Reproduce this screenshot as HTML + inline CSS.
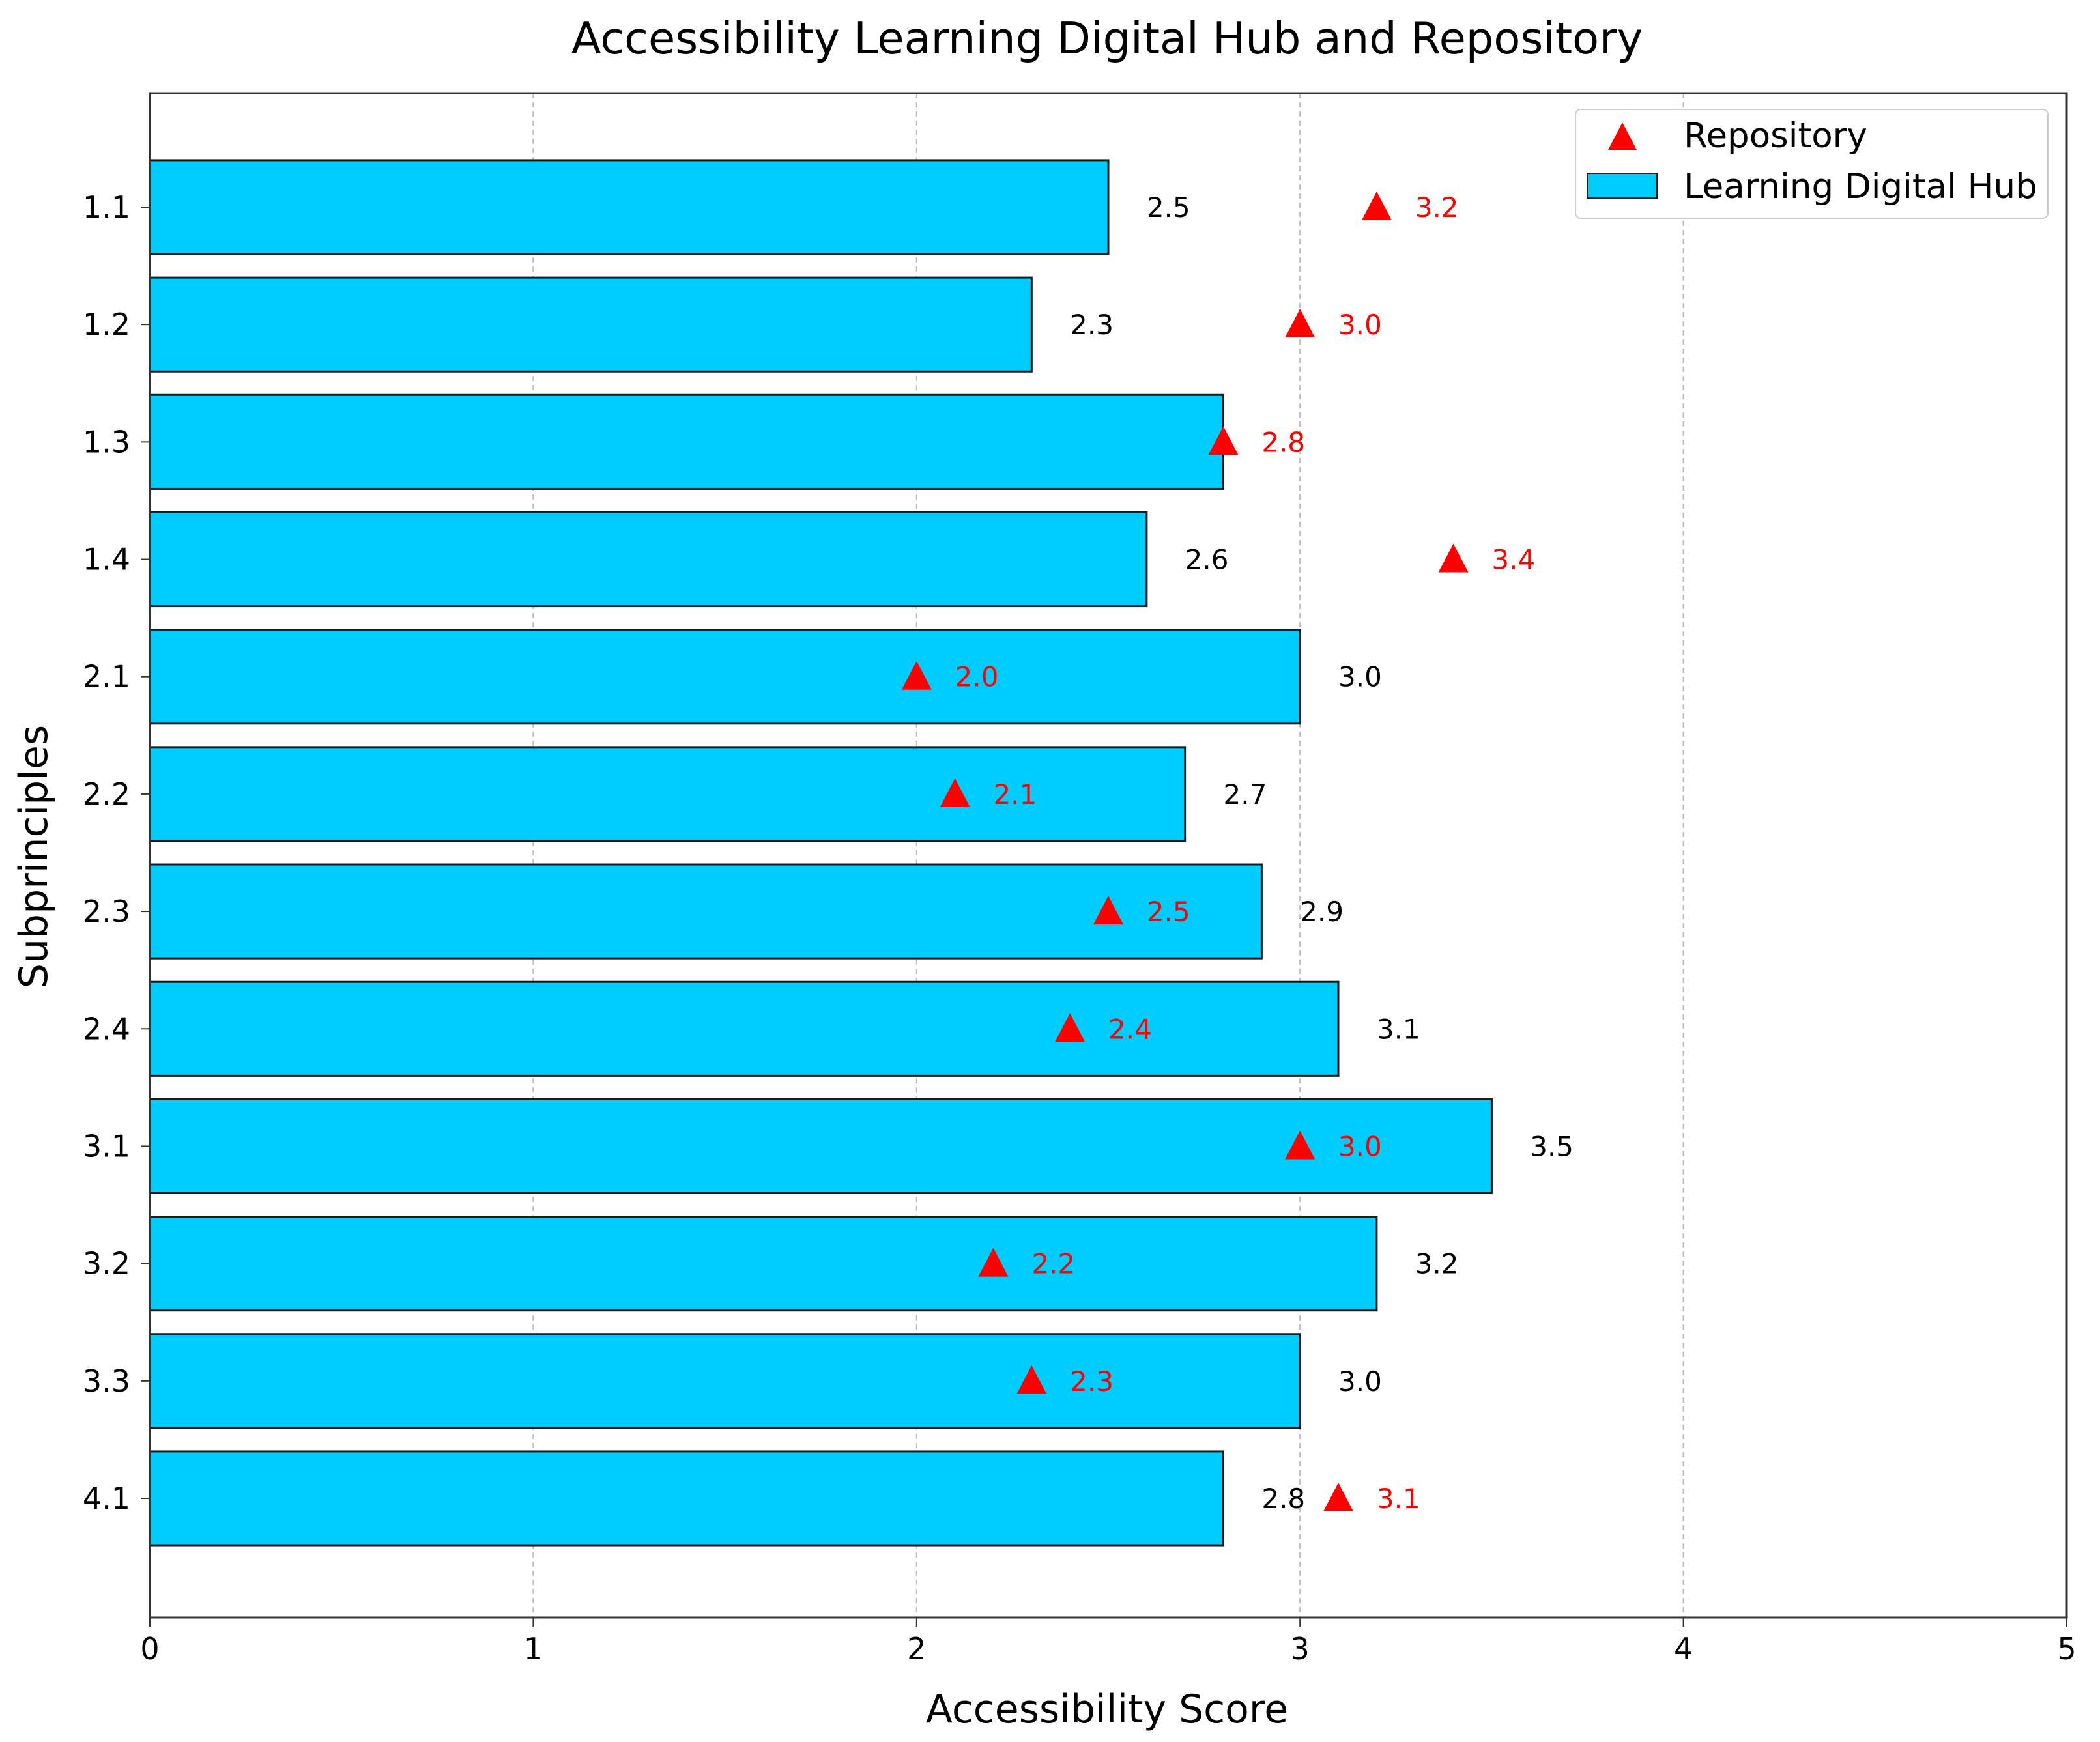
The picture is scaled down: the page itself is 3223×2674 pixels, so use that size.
<!DOCTYPE html>
<html><head><meta charset="utf-8"><style>
html,body{margin:0;padding:0;background:#fff;}
svg{display:block;font-family:"DejaVu Sans","Liberation Sans",sans-serif;}
</style></head><body>
<svg id="chart" width="3223" height="2674" viewBox="0 0 3223 2674" xmlns="http://www.w3.org/2000/svg">
<text x="1699" y="82" font-size="67" text-anchor="middle" fill="#000">Accessibility Learning Digital Hub and Repository</text>
<g id="grid"></g>
<g id="bars"></g>
<g id="markers"></g>
<g id="axes"></g>
<text x="1699" y="2644" font-size="60" text-anchor="middle">Accessibility Score</text>
<text transform="translate(72,1315) rotate(-90)" font-size="60" text-anchor="middle">Subprinciples</text>
<g>
<rect x="2418" y="168" width="725" height="167" rx="8" fill="#fff" stroke="#ccc" stroke-width="2"/>
<polygon points="2490,188 2468,230 2512,230" fill="#ff0000"/>
<text x="2584" y="226" font-size="53">Repository</text>
<rect x="2436" y="266" width="107" height="38" fill="#00ccff" stroke="#222" stroke-width="2"/>
<text x="2584" y="304" font-size="53">Learning Digital Hub</text>
</g>
</svg>
<script>
const categories = ["1.1","1.2","1.3","1.4","2.1","2.2","2.3","2.4","3.1","3.2","3.3","4.1"];
const hubValues = [2.5,2.3,2.8,2.6,3.0,2.7,2.9,3.1,3.5,3.2,3.0,2.8];
const repoValues = [3.2,3.0,2.8,3.4,2.0,2.1,2.5,2.4,3.0,2.2,2.3,3.1];
const xTicks = [0,1,2,3,4,5];

const NS = "http://www.w3.org/2000/svg";
const L = 230, R = 3172, T = 143, B = 2483;
const xScale = v => L + (v / 5) * (R - L);
const y0 = 318, step = (2300 - 318) / 11;
const yScale = i => y0 + i * step;
const barH = step * 0.8;
function mk(tag, attrs, parent) {
  const e = document.createElementNS(NS, tag);
  for (const k in attrs) e.setAttribute(k, attrs[k]);
  document.getElementById(parent).appendChild(e);
  return e;
}
xTicks.forEach(t => {
  if (t > 0 && t < 5) {
    const g = mk("line", {x1: xScale(t), x2: xScale(t), y1: T, y2: B, stroke: "#bbb", "stroke-width": 2, "stroke-dasharray": "8,6"}, "grid");
    
    
  }
  const tk = mk("line", {x1: xScale(t), x2: xScale(t), y1: B, y2: B + 14, stroke: "#333", "stroke-width": 2}, "axes");
  
  
  const lb = mk("text", {x: xScale(t), y: B + 64, "font-size": 46, "text-anchor": "middle"}, "axes");
  lb.textContent = t;
  
  
});
categories.forEach((c, i) => {
  const y = yScale(i);
  const b = mk("rect", {x: xScale(0), y: y - barH / 2, width: xScale(hubValues[i]) - xScale(0), height: barH, fill: "#00ccff", stroke: "#1a1a1a", "stroke-width": 3}, "bars");
  
  
  const bl = mk("text", {x: xScale(hubValues[i] + 0.1), y: y + 15, "font-size": 42}, "bars");
  bl.textContent = hubValues[i].toFixed(1);
  
  
  const mx = xScale(repoValues[i]);
  const m = mk("polygon", {points: `${mx},${y - 24} ${mx - 23},${y + 20} ${mx + 23},${y + 20}`, fill: "#ff0000"}, "markers");
  
  
  const ml = mk("text", {x: xScale(repoValues[i] + 0.1), y: y + 15, "font-size": 42, fill: "#ff0000"}, "markers");
  ml.textContent = repoValues[i].toFixed(1);
  
  
  const tk = mk("line", {x1: L - 14, x2: L, y1: y, y2: y, stroke: "#333", "stroke-width": 2}, "axes");
  
  
  const yl = mk("text", {x: L - 30, y: y + 16, "font-size": 46, "text-anchor": "end"}, "axes");
  yl.textContent = c;
  
  
});
const fr = mk("rect", {x: L, y: T, width: R - L, height: B - T, fill: "none", stroke: "#333", "stroke-width": 3}, "axes");


</script>
</body></html>
